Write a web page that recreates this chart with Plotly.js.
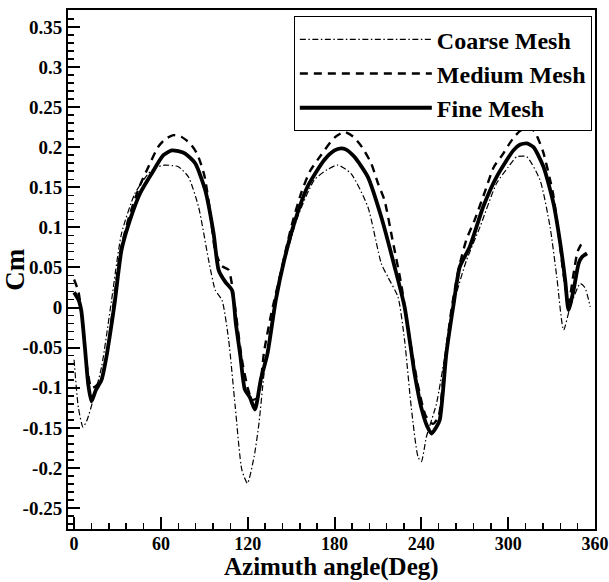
<!DOCTYPE html>
<html>
<head>
<meta charset="utf-8">
<script src="https://cdn.plot.ly/plotly-3.0.1.min.js"></script>
<style>html,body{margin:0;padding:0;background:#fff;}#chart{width:609px;height:582px;}</style>
</head>
<body>
<div id="chart"></div>
<script>
// Coarse mesh (dash-dot)
const coarseDeg = [0, 3, 6.2, 9, 13.2, 19, 25.9, 32.8, 42, 51.3, 57, 62.9, 68, 72.1, 79, 86, 93, 97.6, 102.2, 106.8, 111.4, 116, 119.8, 124.4, 127.8, 131.3, 138.2, 145.2, 154.5, 166, 175, 182.2, 191.4, 203, 212.3, 216.9, 223.8, 228.4, 233, 237.7, 240, 243.5, 250.4, 257.3, 264.3, 271.2, 280.4, 292, 300, 305.9, 312.8, 322, 329, 333.6, 338.3, 342.9, 349.8, 353, 356.7];
const coarseCm = [-0.065, -0.125, -0.149, -0.14, -0.115, -0.074, 0.009, 0.0925, 0.142, 0.167, 0.175, 0.1777, 0.177, 0.1756, 0.163, 0.1257, 0.059, 0.0218, 0.0094, -0.04, -0.124, -0.2026, -0.219, -0.186, -0.144, -0.082, 0.001, 0.055, 0.113, 0.159, 0.172, 0.1777, 0.167, 0.1257, 0.055, 0.038, 0.0135, -0.0405, -0.124, -0.186, -0.192, -0.161, -0.12, -0.049, 0.0177, 0.059, 0.1, 0.155, 0.175, 0.188, 0.188, 0.159, 0.1, 0.038, -0.028, 0.001, 0.030, 0.025, 0.001];

// Medium mesh (dashed)
const mediumDeg = [0, 3, 6, 9, 12, 15, 19, 23, 27, 32, 38, 45, 52, 58, 63, 68.7, 74, 80, 85, 90, 94, 97.6, 102, 106.8, 109, 112, 116, 120, 123, 127, 131.3, 136, 143, 150, 156.8, 163, 170.6, 180, 186.8, 193, 199, 205.3, 210, 214.5, 220, 226, 232, 238, 243, 248, 252, 256, 261, 266, 271.2, 277, 284, 290, 296.6, 303, 308, 312.8, 318, 324, 331, 335, 338, 341.7, 345, 348, 352];
const mediumCm = [0.035, 0.02, -0.02, -0.075, -0.10, -0.098, -0.088, -0.055, 0.0, 0.07, 0.113, 0.15, 0.178, 0.2, 0.21, 0.215, 0.213, 0.205, 0.192, 0.165, 0.12, 0.07, 0.052, 0.047, 0.03, -0.01, -0.065, -0.1, -0.115, -0.112, -0.055, -0.01, 0.045, 0.1, 0.142, 0.17, 0.19, 0.212, 0.219, 0.213, 0.2, 0.18, 0.155, 0.134, 0.085, 0.03, -0.04, -0.1, -0.135, -0.145, -0.135, -0.07, 0.0, 0.05, 0.085, 0.11, 0.145, 0.175, 0.192, 0.21, 0.22, 0.225, 0.22, 0.195, 0.142, 0.09, 0.045, 0.005, 0.04, 0.07, 0.084];

// Fine mesh (solid)
const fineDeg = [0, 3, 5, 7.5, 9.8, 12, 15, 19, 22, 24.7, 28, 32.8, 38.6, 45.5, 53.6, 61.7, 67.5, 72, 76.8, 83.7, 90.6, 96.4, 99.9, 104.5, 109.1, 111.8, 114.9, 118, 121.5, 125, 129, 133.7, 139.4, 145.2, 152.1, 161.4, 172.9, 180, 184.5, 188, 193.7, 203, 212.3, 221.5, 228.4, 235.3, 240, 244, 247, 250, 252.7, 257.3, 262, 266.6, 273.5, 282.8, 292, 303.6, 308, 312.8, 317.5, 324.4, 331.3, 336, 339.4, 341.7, 345.2, 348.7, 351, 354.5];
const fineCm = [0.019, 0.01, -0.004, -0.05, -0.096, -0.117, -0.103, -0.09, -0.065, -0.035, 0.005, 0.072, 0.109, 0.142, 0.167, 0.190, 0.196, 0.195, 0.192, 0.180, 0.1465, 0.0925, 0.0468, 0.032, 0.0218, -0.02, -0.06, -0.102, -0.112, -0.127, -0.090, -0.057, 0.0094, 0.059, 0.105, 0.151, 0.184, 0.196, 0.1985, 0.197, 0.188, 0.163, 0.113, 0.051, 0.001, -0.082, -0.125, -0.148, -0.157, -0.150, -0.140, -0.057, 0.001, 0.051, 0.076, 0.126, 0.163, 0.196, 0.203, 0.2047, 0.200, 0.1756, 0.130, 0.080, 0.034, -0.003, 0.022, 0.055, 0.063, 0.0675];

const seriesNames = ["Coarse Mesh", "Medium Mesh", "Fine Mesh"];
const xTitle = "Azimuth angle(Deg)";
const yTitle = "Cm";
const xTickVals = [0, 60, 120, 180, 240, 300, 360];
const xTickText = ["0", "60", "120", "180", "240", "300", "360"];
const yTickVals = [-0.25, -0.2, -0.15, -0.1, -0.05, 0, 0.05, 0.1, 0.15, 0.2, 0.25, 0.3, 0.35];
const yTickText = ["-0.25", "-0.2", "-0.15", "-0.1", "-0.05", "0", "0.05", "0.1", "0.15", "0.2", "0.25", "0.3", "0.35"];

const FONT = "Liberation Serif, Times New Roman, serif";

const traces = [
  {x: coarseDeg, y: coarseCm, name: seriesNames[0], mode: "lines", type: "scatter",
   line: {color: "#000", width: 1.2, dash: "6px,2.5px,1.5px,2.5px", shape: "spline", smoothing: 0.6}},
  {x: mediumDeg, y: mediumCm, name: seriesNames[1], mode: "lines", type: "scatter",
   line: {color: "#000", width: 2.4, dash: "8px,6px", shape: "spline", smoothing: 0.6}},
  {x: fineDeg, y: fineCm, name: seriesNames[2], mode: "lines", type: "scatter",
   line: {color: "#000", width: 3.8, shape: "spline", smoothing: 0.6}}
];

const layout = {
  width: 609, height: 582,
  margin: {l: 68, r: 14, t: 10, b: 53, pad: 0},
  paper_bgcolor: "#fff", plot_bgcolor: "#fff",
  font: {family: FONT, color: "#000", size: 19, weight: "bold"},
  showlegend: true,
  legend: {
    x: 0.994, y: 0.988, xanchor: "right", yanchor: "top",
    bgcolor: "#fff", bordercolor: "#000", borderwidth: 1,
    font: {family: FONT, size: 24, color: "#000", weight: "bold"},
    itemwidth: 132, tracegroupgap: 0
  },
  xaxis: {
    range: [-4.2, 360], showgrid: false, zeroline: false,
    showline: true, linecolor: "#000", linewidth: 2, mirror: true,
    ticks: "inside", ticklen: 12, tickwidth: 2, tickcolor: "#000",
    tickvals: xTickVals, ticktext: xTickText,
    tickfont: {family: FONT, size: 18, weight: "bold"},
    ticklabeloverflow: "allow", ticklabelstandoff: -3,
    minor: {dtick: 12, tick0: 0, ticks: "inside", ticklen: 6, tickwidth: 1.5, tickcolor: "#000", showgrid: false}
  },
  yaxis: {
    range: [-0.276, 0.371], showgrid: false, zeroline: false,
    showline: true, linecolor: "#000", linewidth: 2, mirror: true,
    ticks: "inside", ticklen: 12, tickwidth: 2, tickcolor: "#000",
    tickvals: yTickVals, ticktext: yTickText,
    tickfont: {family: FONT, size: 19, weight: "bold"},
    minor: {dtick: 0.01, tick0: 0, ticks: "inside", ticklen: 6, tickwidth: 1.5, tickcolor: "#000", showgrid: false}
  },
  annotations: [
    {text: xTitle, xref: "paper", yref: "paper", x: 0.5, y: -0.042, xanchor: "center", yanchor: "top",
     showarrow: false, font: {family: FONT, size: 25, weight: "bold", color: "#000"}},
    {text: yTitle, xref: "paper", yref: "paper", x: -0.102, y: 0.5, xanchor: "center", yanchor: "middle",
     textangle: -90, showarrow: false, font: {family: FONT, size: 27, weight: "bold", color: "#000"}}
  ]
};

Plotly.newPlot("chart", traces, layout, {displayModeBar: false, staticPlot: true});
</script>
</body>
</html>
